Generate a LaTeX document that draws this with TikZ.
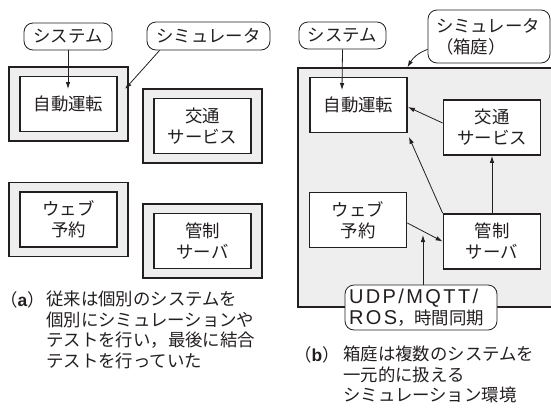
\documentclass[tikz,border=0pt]{standalone}
\usepackage{fontspec}
\setmainfont{Noto Sans CJK JP}
\newfontfamily\latinsp[LetterSpace=12]{Liberation Sans}
\newfontfamily\latinf{Liberation Sans}
\usetikzlibrary{arrows.meta,calc}
\definecolor{bg}{HTML}{EEEEEE}
\definecolor{ink}{HTML}{231F20}
\begin{document}
\begin{tikzpicture}[x=1pt,y=-1pt,
  every node/.style={font=\fontsize{17.4}{21}\selectfont, text=ink},
  inbox/.style={draw=ink, line width=1.8pt, fill=white, minimum width=97pt, minimum height=55pt, align=center, inner sep=0pt},
  outbox/.style={draw=ink, line width=1.2pt, fill=bg, minimum width=119pt, minimum height=74pt, inner sep=0pt},
  tag/.style={draw=ink, line width=0.8pt, rounded corners=9pt, fill=white, inner sep=0pt, align=left},
  arr/.style={draw=ink, line width=0.8pt, -{Latex[length=7pt,width=4.5pt]}},
  captxt/.style={anchor=north west, inner sep=0pt, align=left, font=\fontsize{17.4}{20.5}\selectfont},
]
\useasboundingbox (0,0) rectangle (551,413);
% ---------- left panel ----------
\node[outbox] (lo1) at (68.5,104) {};
\node[inbox] (l1) at (68.5,104) {自動運転};
\node[outbox] (lo2) at (202.5,126) {};
\node[inbox] (l2) at (202.5,126) {交通\\サービス};
\node[outbox] (lo3) at (68.5,219.5) {};
\node[inbox] (l3) at (68.5,219.5) {ウェブ\\予約};
\node[outbox] (lo4) at (202.5,241) {};
\node[inbox] (l4) at (202.5,241) {管制\\サーバ};
\node[tag, minimum width=88pt, minimum height=27pt] (sysL) at (68,36.5) {システム};
\node[tag, minimum width=123pt, minimum height=28pt] (simL) at (208.5,36) {シミュレータ};
\coordinate (sysLend) at (68,89);
\coordinate (simLend) at (125,89);
\draw[arr] (sysL.south) -- (sysLend);
\draw[arr] ($(simL.south west)+(13,0)$) -- (simLend);
\node[captxt] (capAl) at (0,291) {（{\latinf\bfseries a}）};
\node[captxt] (capA) at (46,291) {従来は個別のシステムを\\個別にシミュレーションや\\テストを行い，最後に結合\\テストを行っていた};
% ---------- right panel ----------
\node[draw=ink, line width=1.2pt, fill=bg, minimum width=262pt, minimum height=239pt, inner sep=0pt] (hako) at (429,187.5) {};
\node[inbox] (jR) at (358.5,105) {自動運転};
\node[inbox] (kR) at (492,127.5) {交通\\サービス};
\node[inbox] (wR) at (358,220) {ウェブ\\予約};
\node[inbox] (cR) at (492,241.5) {管制\\サーバ};
\node[tag, minimum width=87pt, minimum height=27pt] (sysR) at (342.5,35.5) {システム};
\node[tag, minimum width=122pt, minimum height=53pt, text width=106pt] (simR) at (489,36.5) {シミュレータ\\（箱庭）};
\node[tag, minimum width=152pt, minimum height=45pt, text width=144pt] (udp) at (421,307.5) {{\latinsp\fontsize{20}{21}\selectfont UDP/MQTT/}\\{\latinsp\fontsize{20}{21}\selectfont ROS}，時間同期};
\coordinate (sysRend) at (342,90);
\coordinate (udpend) at (423,235);
\draw[arr] (sysR.south) -- (sysRend);
\draw[arr] ($(simR.south west)+(0,-14)$) to[out=200,in=60] ($(hako.north west)+(110,0)$);
\draw[arr] ($(kR.west)+(0,-4.5)$) -- ($(jR.east)+(0,2)$);
\draw[arr] (cR.north west) -- ($(jR.south east)+(1,3.5)$);
\draw[arr] ($(wR.east)+(0,3)$) -- (cR.west);
\draw[arr] ($(udp.north)+(2,0)$) -- (udpend);
\draw[arr] (cR.north) -- (kR.south);
\node[captxt] (capBl) at (294,346) {（{\latinf\bfseries b}）};
\node[captxt] (capB) at (343,346) {箱庭は複数のシステムを\\一元的に扱える\\シミュレーション環境};
\end{tikzpicture}
\end{document}
